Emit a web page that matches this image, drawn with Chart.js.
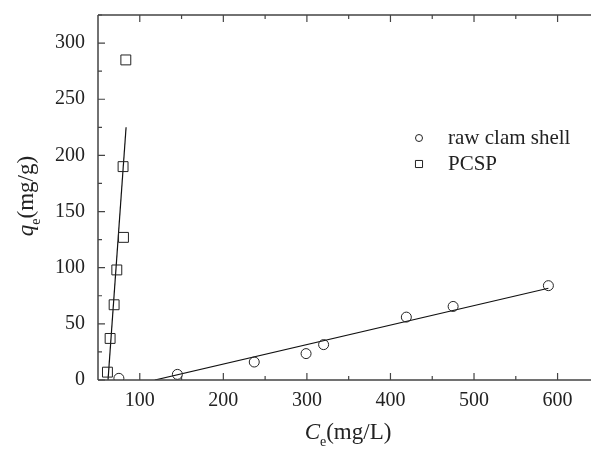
<!DOCTYPE html>
<html>
<head>
<meta charset="utf-8">
<script src="https://cdn.jsdelivr.net/npm/chart.js@4/dist/chart.umd.min.js"></script>
<style>
    html, body { margin: 0; padding: 0; background: #fff; }
    #wrap { width: 591px; height: 450px; position: relative; }
</style>
</head>
<body>
<div id="wrap"><canvas id="chart"></canvas></div>
<script>
// Data
const rawX = [75, 145, 237, 299, 320, 419, 475, 589];
const rawY = [1.5, 5, 16, 23.5, 31.5, 56, 65.5, 84];
const pcspX = [61.3, 64.5, 69.3, 72.5, 80.5, 80, 83.3];
const pcspY = [7, 37, 67, 98, 127, 190, 285];

// Linear fit lines (end points)
const rawFitX = [118, 589];
const rawFitY = [0, 81.7];
const pcspFitX = [62, 83.6];
const pcspFitY = [0, 225];

// Axis ticks
const xTicks = [100, 200, 300, 400, 500, 600];
const xMinor = [150, 250, 350, 450, 550];
const yTicks = [0, 50, 100, 150, 200, 250, 300];
const yMinor = [25, 75, 125, 175, 225, 275, 325];

const FONT = "'Liberation Serif', 'DejaVu Serif', serif";
const toPts = (xs, ys) => xs.map((x, i) => ({ x: x, y: ys[i] }));

// Inward ticks, frame, axis titles and legend
const decorPlugin = {
    id: 'decor',
    afterDraw(chart) {
        const ctx = chart.ctx;
        const a = chart.chartArea;
        const xs = chart.scales.x, ys = chart.scales.y;
        ctx.save();
        ctx.strokeStyle = '#444';
        ctx.lineWidth = 1.5;
        // frame
        ctx.beginPath();
        ctx.moveTo(a.left, a.top); ctx.lineTo(a.right, a.top);
        ctx.moveTo(a.left, a.top); ctx.lineTo(a.left, a.bottom);
        ctx.moveTo(a.left, a.bottom); ctx.lineTo(a.right, a.bottom);
        ctx.stroke();
        // ticks
        ctx.lineWidth = 1.2;
        ctx.beginPath();
        const xt = (v, len) => {
            const p = xs.getPixelForValue(v);
            ctx.moveTo(p, a.bottom); ctx.lineTo(p, a.bottom - len);
            ctx.moveTo(p, a.top); ctx.lineTo(p, a.top + len);
        };
        const yt = (v, len) => {
            const p = ys.getPixelForValue(v);
            ctx.moveTo(a.left, p); ctx.lineTo(a.left + len, p);
        };
        xTicks.forEach(v => xt(v, 7));
        xMinor.forEach(v => xt(v, 4));
        yTicks.forEach(v => yt(v, 7));
        yMinor.forEach(v => yt(v, 4));
        ctx.stroke();

        // axis titles
        ctx.fillStyle = '#222';
        ctx.textBaseline = 'alphabetic';
        const rich = (parts) => {
            let w = 0;
            parts.forEach(p => { ctx.font = p.font; w += ctx.measureText(p.text).width; });
            let x = -w / 2;
            parts.forEach(p => {
                ctx.font = p.font;
                ctx.fillText(p.text, x, p.dy || 0);
                x += ctx.measureText(p.text).width;
            });
        };
        ctx.save();
        ctx.translate(348, 439);
        rich([
            { text: 'C', font: 'italic 23px ' + FONT },
            { text: 'e', font: '14px ' + FONT, dy: 7 },
            { text: '(mg/L)', font: '23px ' + FONT }
        ]);
        ctx.restore();
        ctx.save();
        ctx.translate(33, 196);
        ctx.rotate(-Math.PI / 2);
        rich([
            { text: 'q', font: 'italic 23px ' + FONT },
            { text: 'e', font: '14px ' + FONT, dy: 7 },
            { text: '(mg/g)', font: '23px ' + FONT }
        ]);
        ctx.restore();

        // legend
        const items = [
            { label: 'raw clam shell', style: 'circle', r: 3.5, y: 138 },
            { label: 'PCSP', style: 'rect', r: 5, y: 164 }
        ];
        ctx.font = '21px ' + FONT;
        ctx.textBaseline = 'middle';
        items.forEach(it => {
            ctx.fillStyle = 'rgba(0,0,0,0)';
            ctx.strokeStyle = '#222';
            ctx.lineWidth = 1;
            Chart.helpers.drawPoint(ctx, {
                pointStyle: it.style, radius: it.r, borderWidth: 1, rotation: 0
            }, 419, it.y);
            ctx.fillStyle = '#222';
            ctx.fillText(it.label, 448, it.y);
        });
        ctx.restore();
    }
};

new Chart(document.getElementById('chart'), {
    type: 'scatter',
    data: {
        datasets: [
            {
                label: 'raw clam shell',
                data: toPts(rawX, rawY),
                pointStyle: 'circle',
                pointRadius: 5,
                borderColor: '#222',
                borderWidth: 1,
                backgroundColor: 'transparent',
                clip: 0
            },
            {
                label: 'PCSP',
                data: toPts(pcspX, pcspY),
                pointStyle: 'rect',
                pointRadius: 7,
                borderColor: '#222',
                borderWidth: 1,
                backgroundColor: 'transparent',
                clip: 0
            },
            {
                label: 'raw fit',
                data: toPts(rawFitX, rawFitY),
                showLine: true,
                pointRadius: 0,
                borderColor: '#111',
                borderWidth: 1.2,
                clip: 0
            },
            {
                label: 'PCSP fit',
                data: toPts(pcspFitX, pcspFitY),
                showLine: true,
                pointRadius: 0,
                borderColor: '#111',
                borderWidth: 1.2,
                clip: 0
            }
        ]
    },
    options: {
        responsive: true,
        maintainAspectRatio: false,
        animation: false,
        layout: { autoPadding: false, padding: { top: 15, right: 0, left: 0, bottom: 0 } },
        plugins: {
            legend: { display: false },
            tooltip: { enabled: false }
        },
        scales: {
            x: {
                type: 'linear',
                min: 50,
                max: 640,
                afterBuildTicks: s => { s.ticks = xTicks.map(v => ({ value: v })); },
                afterFit: s => { s.height = 70; s.paddingLeft = 0; s.paddingRight = 0; },
                grid: { display: false, drawTicks: false },
                border: { display: false },
                ticks: { color: '#222', font: { family: FONT, size: 20 }, padding: 9, maxRotation: 0 }
            },
            y: {
                type: 'linear',
                min: 0,
                max: 325,
                afterBuildTicks: s => { s.ticks = yTicks.map(v => ({ value: v })); },
                afterFit: s => { s.width = 98; s.paddingTop = 0; s.paddingBottom = 0; },
                grid: { display: false, drawTicks: false },
                border: { display: false },
                ticks: { color: '#222', font: { family: FONT, size: 20 }, padding: 13 }
            }
        }
    },
    plugins: [decorPlugin]
});
</script>
</body>
</html>
